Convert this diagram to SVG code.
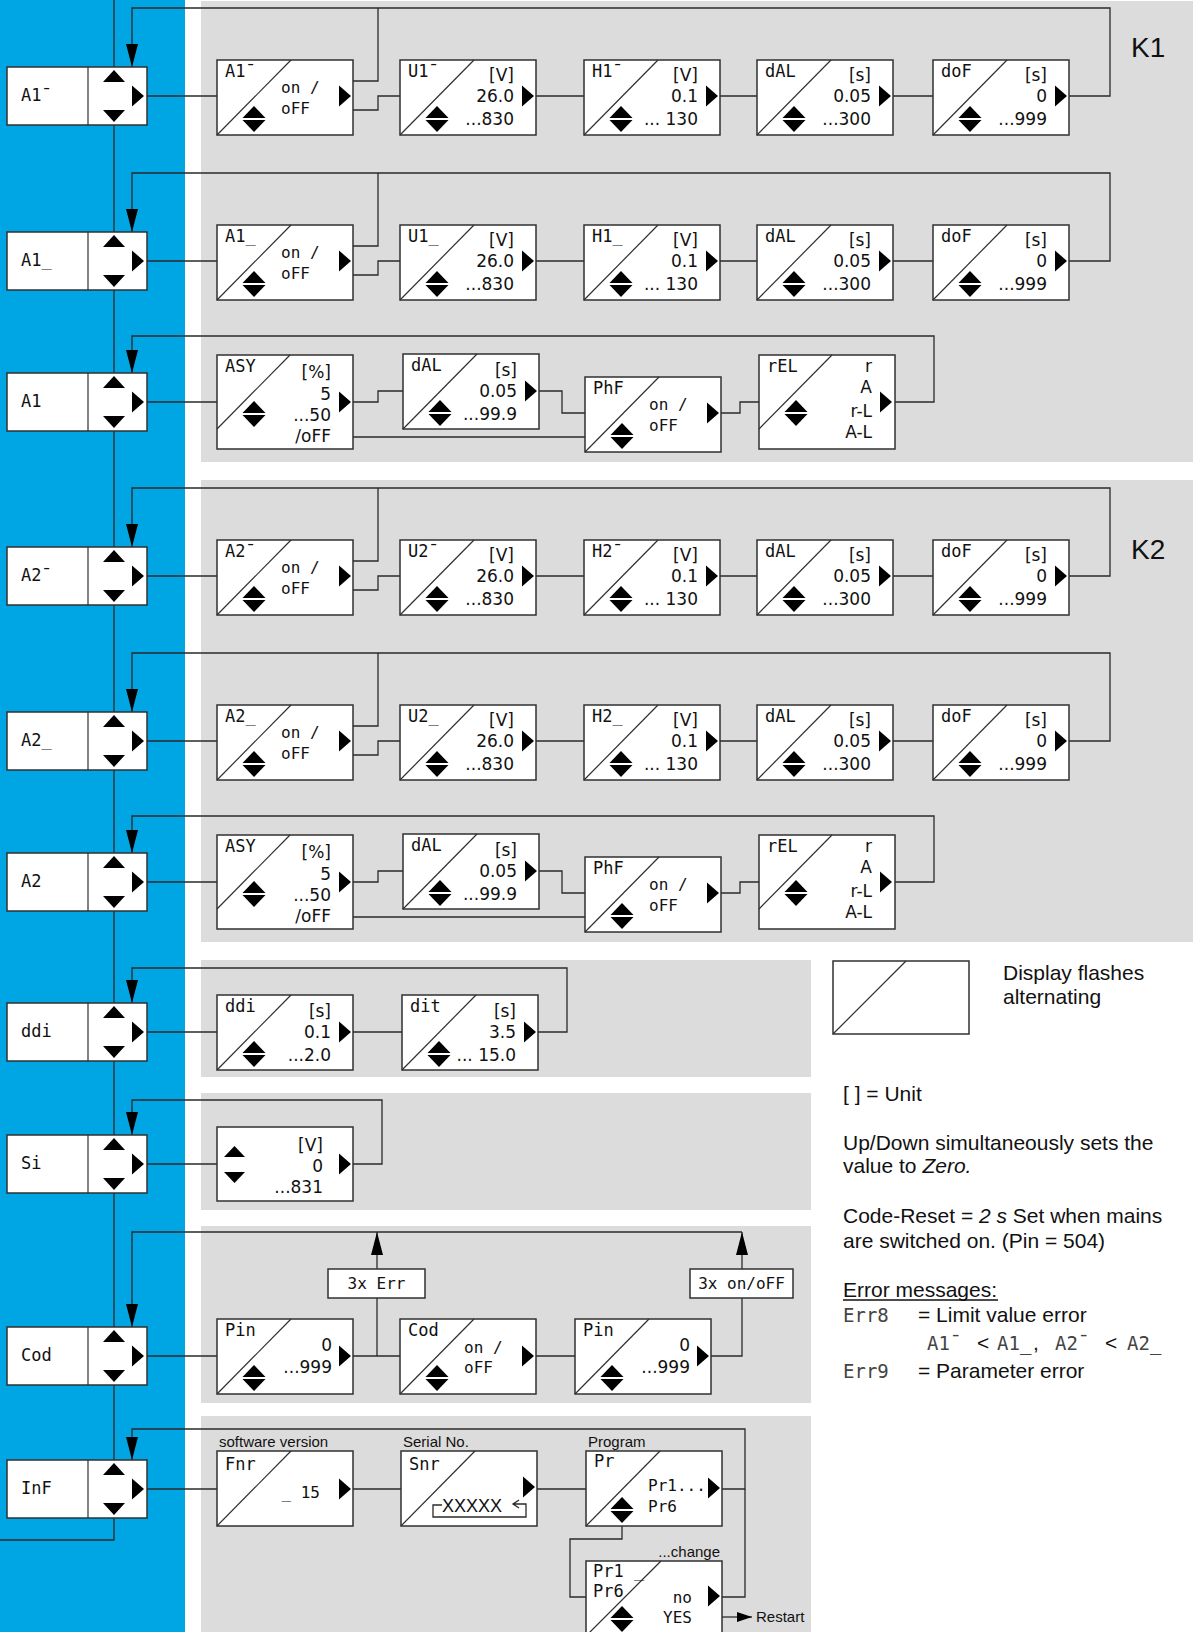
<svg xmlns="http://www.w3.org/2000/svg" width="1193" height="1632" viewBox="0 0 1193 1632">
<style>
.blue{fill:#00a6e4}
.panel{fill:#dcdcdc}
.box{fill:#fff;stroke:#303030;stroke-width:1.5}
.dg{stroke:#303030;stroke-width:1.2;fill:none}
.ln{fill:none;stroke:#2a2a2a;stroke-width:1.3}
.tri{fill:#000}
.lb{font-family:"DejaVu Sans Mono",monospace;font-size:17px;fill:#111}
.o{font-family:"DejaVu Sans Mono",monospace;font-size:16px;fill:#111}
.v{font-family:"DejaVu Sans",sans-serif;font-size:17px;fill:#111;text-anchor:end}
.nl{font-family:"DejaVu Sans Mono",monospace;font-size:17px;fill:#111}
.sg{font-family:"DejaVu Sans Mono",monospace;font-size:19px;fill:#444}
.lg{font-family:"Liberation Sans",Arial,sans-serif;font-size:21px;fill:#111}
.cap{font-family:"Liberation Sans",Arial,sans-serif;font-size:15px;fill:#111}
.k{font-family:"Liberation Sans",Arial,sans-serif;font-size:28px;fill:#111}
</style>
<defs>
<marker id="ah" markerUnits="userSpaceOnUse" markerWidth="23" markerHeight="12" viewBox="0 0 23 12" refX="23" refY="6" orient="auto"><path d="M0,0 L23,6 L0,12 z" fill="#000"/></marker>
<marker id="ahs" markerUnits="userSpaceOnUse" markerWidth="15" markerHeight="10" viewBox="0 0 15 10" refX="15" refY="5" orient="auto"><path d="M0,0 L15,5 L0,10 z" fill="#000"/></marker>
<g id="node"><rect x="7" y="0" width="140" height="58" class="box"/><line x1="88" y1="0" x2="88" y2="58" class="dg"/><polygon class="tri" points="103,15 125,15 114,3"/><polygon class="tri" points="103,43 125,43 114,55"/><polygon class="tri" points="132,18.5 132,39.5 144,29"/></g>
<g id="ud" class="tri"><polygon points="-11.5,-1 11.5,-1 0,-13"/><polygon points="-11.5,1 11.5,1 0,13"/></g>
<polygon id="ra" class="tri" points="-12,-10.5 -12,10.5 0,0"/>
<g id="pb"><rect x="0" y="0" width="136" height="75" class="box"/><line x1="0" y1="75" x2="74" y2="0" class="dg"/></g>
<g id="pbT"><rect x="0" y="0" width="136" height="94" class="box"/><line x1="0" y1="74" x2="73" y2="0" class="dg"/></g>
</defs>

<rect class="blue" x="0" y="0" width="185" height="1632"/>
<rect class="panel" x="201" y="1" width="992" height="461"/>
<rect class="panel" x="201" y="480" width="992" height="462"/>
<rect class="panel" x="201" y="960" width="610" height="117"/>
<rect class="panel" x="201" y="1093" width="610" height="117"/>
<rect class="panel" x="201" y="1226" width="610" height="177"/>
<rect class="panel" x="201" y="1416" width="610" height="216"/>
<text class="k" x="1131" y="57">K1</text>
<text class="k" x="1131" y="559">K2</text>

<g id="connectors" class="ln">
<path d="M114,0 V1540 H0"/>
<path d="M147,96 H217"/><path d="M353,81 H378 V8"/><path d="M353,110 H378 V96 H400"/><path d="M536,96 H584"/><path d="M720,96 H757"/><path d="M893,96 H933"/><path d="M1069,96 H1110 V8 H132 V67" marker-end="url(#ah)"/>
<path d="M147,261 H217"/><path d="M353,246 H378 V173"/><path d="M353,275 H378 V261 H400"/><path d="M536,261 H584"/><path d="M720,261 H757"/><path d="M893,261 H933"/><path d="M1069,261 H1110 V173 H132 V232" marker-end="url(#ah)"/>
<path d="M147,402 H217"/><path d="M353,402 H378 V391 H403"/><path d="M539,391 H562 V413 H585"/><path d="M353,437 H585"/><path d="M721,413 H740 V402 H759"/><path d="M895,402 H934 V336 H132 V373" marker-end="url(#ah)"/>
<path d="M147,576 H217"/><path d="M353,561 H378 V488"/><path d="M353,590 H378 V576 H400"/><path d="M536,576 H584"/><path d="M720,576 H757"/><path d="M893,576 H933"/><path d="M1069,576 H1110 V488 H132 V547" marker-end="url(#ah)"/>
<path d="M147,741 H217"/><path d="M353,726 H378 V653"/><path d="M353,755 H378 V741 H400"/><path d="M536,741 H584"/><path d="M720,741 H757"/><path d="M893,741 H933"/><path d="M1069,741 H1110 V653 H132 V712" marker-end="url(#ah)"/>
<path d="M147,882 H217"/><path d="M353,882 H378 V871 H403"/><path d="M539,871 H562 V893 H585"/><path d="M353,917 H585"/><path d="M721,893 H740 V882 H759"/><path d="M895,882 H934 V816 H132 V853" marker-end="url(#ah)"/>
<path d="M147,1032 H217"/><path d="M353,1032 H402"/><path d="M538,1032 H567 V968 H132 V1003" marker-end="url(#ah)"/>
<path d="M147,1164 H217"/><path d="M353,1164 H382 V1100 H132 V1135" marker-end="url(#ah)"/>
<path d="M147,1356 H217"/><path d="M353,1356 H400"/><path d="M377,1356 V1298"/><path d="M377,1269 V1232" marker-end="url(#ah)"/><path d="M536,1356 H575"/><path d="M711,1356 H742 V1298"/><path d="M742,1269 V1232" marker-end="url(#ah)"/><path d="M742,1232 H132 V1327" marker-end="url(#ah)"/>
<path d="M147,1489 H217"/><path d="M353,1489 H401"/><path d="M537,1489 H586"/><path d="M722,1489 H745 V1429 H132 V1460" marker-end="url(#ah)"/>
<path d="M622,1524 V1539 H570 V1597 H586"/><path d="M722,1597 H745 V1489"/>
<path d="M722,1617 H752" marker-end="url(#ahs)"/>
</g>

<g id="n-A1hi"><use href="#node" y="67"/><text class="nl" x="21" y="101">A1¯</text></g>
<g id="n-A1lo"><use href="#node" y="232"/><text class="nl" x="21" y="266">A1_</text></g>
<g id="n-A1"><use href="#node" y="373"/><text class="nl" x="21" y="407">A1</text></g>
<g id="n-A2hi"><use href="#node" y="547"/><text class="nl" x="21" y="581">A2¯</text></g>
<g id="n-A2lo"><use href="#node" y="712"/><text class="nl" x="21" y="746">A2_</text></g>
<g id="n-A2"><use href="#node" y="853"/><text class="nl" x="21" y="887">A2</text></g>
<g id="n-ddi"><use href="#node" y="1003"/><text class="nl" x="21" y="1037">ddi</text></g>
<g id="n-Si"><use href="#node" y="1135"/><text class="nl" x="21" y="1169">Si</text></g>
<g id="n-Cod"><use href="#node" y="1327"/><text class="nl" x="21" y="1361">Cod</text></g>
<g id="n-InF"><use href="#node" y="1460"/><text class="nl" x="21" y="1494">InF</text></g>

<g id="r1-A1hi"><use href="#pb" x="217" y="60"/><text class="lb" x="225" y="77">A1¯</text><text class="o" x="281" y="93">on /</text><text class="o" x="281" y="114">oFF</text><use href="#ud" x="254" y="119"/><use href="#ra" x="351" y="96"/></g>
<g id="r1-U1hi"><use href="#pb" x="400" y="60"/><text class="lb" x="408" y="77">U1¯</text><text class="v" x="514" y="81">[V]</text><text class="v" x="514" y="102">26.0</text><text class="v" x="514" y="125">...830</text><use href="#ud" x="437" y="119"/><use href="#ra" x="534" y="96"/></g>
<g id="r1-H1hi"><use href="#pb" x="584" y="60"/><text class="lb" x="592" y="77">H1¯</text><text class="v" x="698" y="81">[V]</text><text class="v" x="698" y="102">0.1</text><text class="v" x="698" y="125">... 130</text><use href="#ud" x="621" y="119"/><use href="#ra" x="718" y="96"/></g>
<g id="r1-dAL"><use href="#pb" x="757" y="60"/><text class="lb" x="765" y="77">dAL</text><text class="v" x="871" y="81">[s]</text><text class="v" x="871" y="102">0.05</text><text class="v" x="871" y="125">...300</text><use href="#ud" x="794" y="119"/><use href="#ra" x="891" y="96"/></g>
<g id="r1-doF"><use href="#pb" x="933" y="60"/><text class="lb" x="941" y="77">doF</text><text class="v" x="1047" y="81">[s]</text><text class="v" x="1047" y="102">0</text><text class="v" x="1047" y="125">...999</text><use href="#ud" x="970" y="119"/><use href="#ra" x="1067" y="96"/></g>

<g id="r2-A1lo"><use href="#pb" x="217" y="225"/><text class="lb" x="225" y="242">A1_</text><text class="o" x="281" y="258">on /</text><text class="o" x="281" y="279">oFF</text><use href="#ud" x="254" y="284"/><use href="#ra" x="351" y="261"/></g>
<g id="r2-U1lo"><use href="#pb" x="400" y="225"/><text class="lb" x="408" y="242">U1_</text><text class="v" x="514" y="246">[V]</text><text class="v" x="514" y="267">26.0</text><text class="v" x="514" y="290">...830</text><use href="#ud" x="437" y="284"/><use href="#ra" x="534" y="261"/></g>
<g id="r2-H1lo"><use href="#pb" x="584" y="225"/><text class="lb" x="592" y="242">H1_</text><text class="v" x="698" y="246">[V]</text><text class="v" x="698" y="267">0.1</text><text class="v" x="698" y="290">... 130</text><use href="#ud" x="621" y="284"/><use href="#ra" x="718" y="261"/></g>
<g id="r2-dAL"><use href="#pb" x="757" y="225"/><text class="lb" x="765" y="242">dAL</text><text class="v" x="871" y="246">[s]</text><text class="v" x="871" y="267">0.05</text><text class="v" x="871" y="290">...300</text><use href="#ud" x="794" y="284"/><use href="#ra" x="891" y="261"/></g>
<g id="r2-doF"><use href="#pb" x="933" y="225"/><text class="lb" x="941" y="242">doF</text><text class="v" x="1047" y="246">[s]</text><text class="v" x="1047" y="267">0</text><text class="v" x="1047" y="290">...999</text><use href="#ud" x="970" y="284"/><use href="#ra" x="1067" y="261"/></g>

<g id="r3-ASY"><use href="#pbT" x="217" y="355"/><text class="lb" x="225" y="372">ASY</text><text class="v" x="331" y="378">[%]</text><text class="v" x="331" y="400">5</text><text class="v" x="331" y="421">...50</text><text class="v" x="331" y="442">/oFF</text><use href="#ud" x="254" y="414"/><use href="#ra" x="351" y="402"/></g>
<g id="r3-dAL"><use href="#pb" x="403" y="354"/><text class="lb" x="411" y="371">dAL</text><text class="v" x="517" y="376">[s]</text><text class="v" x="517" y="397">0.05</text><text class="v" x="517" y="420">...99.9</text><use href="#ud" x="440" y="413"/><use href="#ra" x="537" y="391"/></g>
<g id="r3-PhF"><use href="#pb" x="585" y="377"/><text class="lb" x="593" y="394">PhF</text><text class="o" x="649" y="410">on /</text><text class="o" x="649" y="431">oFF</text><use href="#ud" x="622" y="436"/><use href="#ra" x="719" y="413"/></g>
<g id="r3-rEL"><use href="#pbT" x="759" y="355"/><text class="lb" x="767" y="372">rEL</text><text class="v" x="872" y="372">r</text><text class="v" x="872" y="393">A</text><text class="v" x="872" y="417">r-L</text><text class="v" x="872" y="438">A-L</text><use href="#ud" x="796" y="413"/><use href="#ra" x="892" y="402"/></g>

<g id="r4-A2hi"><use href="#pb" x="217" y="540"/><text class="lb" x="225" y="557">A2¯</text><text class="o" x="281" y="573">on /</text><text class="o" x="281" y="594">oFF</text><use href="#ud" x="254" y="599"/><use href="#ra" x="351" y="576"/></g>
<g id="r4-U2hi"><use href="#pb" x="400" y="540"/><text class="lb" x="408" y="557">U2¯</text><text class="v" x="514" y="561">[V]</text><text class="v" x="514" y="582">26.0</text><text class="v" x="514" y="605">...830</text><use href="#ud" x="437" y="599"/><use href="#ra" x="534" y="576"/></g>
<g id="r4-H2hi"><use href="#pb" x="584" y="540"/><text class="lb" x="592" y="557">H2¯</text><text class="v" x="698" y="561">[V]</text><text class="v" x="698" y="582">0.1</text><text class="v" x="698" y="605">... 130</text><use href="#ud" x="621" y="599"/><use href="#ra" x="718" y="576"/></g>
<g id="r4-dAL"><use href="#pb" x="757" y="540"/><text class="lb" x="765" y="557">dAL</text><text class="v" x="871" y="561">[s]</text><text class="v" x="871" y="582">0.05</text><text class="v" x="871" y="605">...300</text><use href="#ud" x="794" y="599"/><use href="#ra" x="891" y="576"/></g>
<g id="r4-doF"><use href="#pb" x="933" y="540"/><text class="lb" x="941" y="557">doF</text><text class="v" x="1047" y="561">[s]</text><text class="v" x="1047" y="582">0</text><text class="v" x="1047" y="605">...999</text><use href="#ud" x="970" y="599"/><use href="#ra" x="1067" y="576"/></g>

<g id="r5-A2lo"><use href="#pb" x="217" y="705"/><text class="lb" x="225" y="722">A2_</text><text class="o" x="281" y="738">on /</text><text class="o" x="281" y="759">oFF</text><use href="#ud" x="254" y="764"/><use href="#ra" x="351" y="741"/></g>
<g id="r5-U2lo"><use href="#pb" x="400" y="705"/><text class="lb" x="408" y="722">U2_</text><text class="v" x="514" y="726">[V]</text><text class="v" x="514" y="747">26.0</text><text class="v" x="514" y="770">...830</text><use href="#ud" x="437" y="764"/><use href="#ra" x="534" y="741"/></g>
<g id="r5-H2lo"><use href="#pb" x="584" y="705"/><text class="lb" x="592" y="722">H2_</text><text class="v" x="698" y="726">[V]</text><text class="v" x="698" y="747">0.1</text><text class="v" x="698" y="770">... 130</text><use href="#ud" x="621" y="764"/><use href="#ra" x="718" y="741"/></g>
<g id="r5-dAL"><use href="#pb" x="757" y="705"/><text class="lb" x="765" y="722">dAL</text><text class="v" x="871" y="726">[s]</text><text class="v" x="871" y="747">0.05</text><text class="v" x="871" y="770">...300</text><use href="#ud" x="794" y="764"/><use href="#ra" x="891" y="741"/></g>
<g id="r5-doF"><use href="#pb" x="933" y="705"/><text class="lb" x="941" y="722">doF</text><text class="v" x="1047" y="726">[s]</text><text class="v" x="1047" y="747">0</text><text class="v" x="1047" y="770">...999</text><use href="#ud" x="970" y="764"/><use href="#ra" x="1067" y="741"/></g>

<g id="r6-ASY"><use href="#pbT" x="217" y="835"/><text class="lb" x="225" y="852">ASY</text><text class="v" x="331" y="858">[%]</text><text class="v" x="331" y="880">5</text><text class="v" x="331" y="901">...50</text><text class="v" x="331" y="922">/oFF</text><use href="#ud" x="254" y="894"/><use href="#ra" x="351" y="882"/></g>
<g id="r6-dAL"><use href="#pb" x="403" y="834"/><text class="lb" x="411" y="851">dAL</text><text class="v" x="517" y="856">[s]</text><text class="v" x="517" y="877">0.05</text><text class="v" x="517" y="900">...99.9</text><use href="#ud" x="440" y="893"/><use href="#ra" x="537" y="871"/></g>
<g id="r6-PhF"><use href="#pb" x="585" y="857"/><text class="lb" x="593" y="874">PhF</text><text class="o" x="649" y="890">on /</text><text class="o" x="649" y="911">oFF</text><use href="#ud" x="622" y="916"/><use href="#ra" x="719" y="893"/></g>
<g id="r6-rEL"><use href="#pbT" x="759" y="835"/><text class="lb" x="767" y="852">rEL</text><text class="v" x="872" y="852">r</text><text class="v" x="872" y="873">A</text><text class="v" x="872" y="897">r-L</text><text class="v" x="872" y="918">A-L</text><use href="#ud" x="796" y="893"/><use href="#ra" x="892" y="882"/></g>

<g id="b-ddi"><use href="#pb" x="217" y="995"/><text class="lb" x="225" y="1012">ddi</text><text class="v" x="331" y="1017">[s]</text><text class="v" x="331" y="1038">0.1</text><text class="v" x="331" y="1061">...2.0</text><use href="#ud" x="254" y="1054"/><use href="#ra" x="351" y="1032"/></g>
<g id="b-dit"><use href="#pb" x="402" y="995"/><text class="lb" x="410" y="1012">dit</text><text class="v" x="516" y="1017">[s]</text><text class="v" x="516" y="1038">3.5</text><text class="v" x="516" y="1061">... 15.0</text><use href="#ud" x="439" y="1054"/><use href="#ra" x="536" y="1032"/></g>

<g id="b-Si"><rect x="217" y="1127" width="136" height="74" class="box"/><polygon class="tri" points="224,1157 245,1157 234.5,1146"/><polygon class="tri" points="224,1172 245,1172 234.5,1183"/><text class="v" x="323" y="1151">[V]</text><text class="v" x="323" y="1172">0</text><text class="v" x="323" y="1193">...831</text><use href="#ra" x="351" y="1164"/></g>

<g id="b-Pin1"><use href="#pb" x="217" y="1319"/><text class="lb" x="225" y="1336">Pin</text><text class="v" x="332" y="1351">0</text><text class="v" x="332" y="1373">...999</text><use href="#ud" x="254" y="1378"/><use href="#ra" x="351" y="1356"/></g>
<g id="b-Cod"><use href="#pb" x="400" y="1319"/><text class="lb" x="408" y="1336">Cod</text><text class="o" x="464" y="1353">on /</text><text class="o" x="464" y="1373">oFF</text><use href="#ud" x="437" y="1378"/><use href="#ra" x="534" y="1356"/></g>
<g id="b-Pin2"><use href="#pb" x="575" y="1319"/><text class="lb" x="583" y="1336">Pin</text><text class="v" x="690" y="1351">0</text><text class="v" x="690" y="1373">...999</text><use href="#ud" x="612" y="1378"/><use href="#ra" x="709" y="1356"/></g>
<g id="b-3xErr"><rect x="328" y="1269" width="97" height="29" class="box"/><text class="o" x="376.5" y="1289" text-anchor="middle">3x Err</text></g>
<g id="b-3xOnOff"><rect x="690" y="1269" width="103" height="29" class="box"/><text class="o" x="741.5" y="1289" text-anchor="middle">3x on/oFF</text></g>

<g id="b-Fnr"><text class="cap" x="219" y="1447">software version</text><use href="#pb" x="217" y="1451"/><text class="lb" x="225" y="1470">Fnr</text><text class="o" x="320" y="1498" text-anchor="end">_ 15</text><use href="#ra" x="351" y="1489"/></g>
<g id="b-Snr"><text class="cap" x="403" y="1447">Serial No.</text><use href="#pb" x="401" y="1451"/><text class="lb" x="409" y="1470">Snr</text><text x="442" y="1512" font-family="Liberation Sans, Arial, sans-serif" font-size="18" fill="#111">XXXXX</text><path class="ln" d="M442,1505 H433 V1517 H526 V1504 H513 M519,1500 L513,1504 L519,1508"/><use href="#ra" x="535" y="1487"/></g>
<g id="b-Pr"><text class="cap" x="588" y="1447">Program</text><use href="#pb" x="586" y="1451"/><text class="lb" x="594" y="1467">Pr</text><text class="o" x="648" y="1491">Pr1...</text><text class="o" x="648" y="1512">Pr6</text><use href="#ud" x="622" y="1510"/><use href="#ra" x="720" y="1488"/></g>
<g id="b-Prchange"><text class="cap" x="720" y="1557" text-anchor="end">...change</text><rect x="586" y="1561" width="136" height="80" class="box"/><line x1="586" y1="1636" x2="661" y2="1561" class="dg"/><text class="nl" x="593" y="1577">Pr1 _</text><text class="nl" x="593" y="1597">Pr6</text><text class="o" x="692" y="1603" text-anchor="end">no</text><text class="o" x="692" y="1623" text-anchor="end">YES</text><use href="#ud" x="622" y="1619"/><use href="#ra" x="720" y="1596"/><text class="cap" x="756" y="1622">Restart</text></g>

<g id="legend">
<rect x="833" y="961" width="136" height="73" class="box"/><line x1="833" y1="1034" x2="906" y2="961" class="dg"/>
<text class="lg" x="1003" y="980">Display flashes</text>
<text class="lg" x="1003" y="1004">alternating</text>
<text class="lg" x="843" y="1101">[ ] = Unit</text>
<text class="lg" x="843" y="1150">Up/Down simultaneously sets the</text>
<text class="lg" x="843" y="1173">value to <tspan font-style="italic">Zero.</tspan></text>
<text class="lg" x="843" y="1223">Code-Reset = <tspan font-style="italic">2 s</tspan> Set when mains</text>
<text class="lg" x="843" y="1248">are switched on. (Pin = 504)</text>
<text class="lg" x="843" y="1297">Error messages:</text>
<line x1="843" y1="1300" x2="998" y2="1300" stroke="#111" stroke-width="1.3"/>
<text class="sg" x="843" y="1322">Err8</text><text class="lg" x="918" y="1322">= Limit value error</text>
<text class="sg" x="927" y="1350">A1¯</text><text class="lg" x="977" y="1350">&lt;</text><text class="sg" x="997" y="1350">A1_</text><text class="lg" x="1033" y="1350">,</text><text class="sg" x="1055" y="1350">A2¯</text><text class="lg" x="1105" y="1350">&lt;</text><text class="sg" x="1127" y="1350">A2_</text>
<text class="sg" x="843" y="1378">Err9</text><text class="lg" x="918" y="1378">= Parameter error</text>
</g>
</svg>
